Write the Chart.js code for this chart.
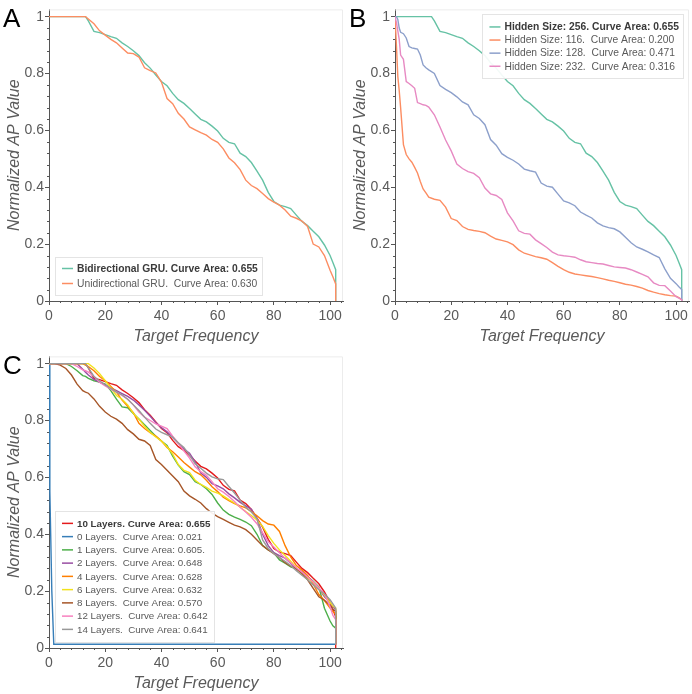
<!DOCTYPE html>
<html>
<head>
<meta charset="utf-8">
<script src="https://cdn.jsdelivr.net/npm/chart.js@4.4.0/dist/chart.umd.min.js"></script>
<style>
  body { margin: 0; background: #fff; width: 692px; height: 694px; position: relative; overflow: hidden; }
  .panel { position: absolute; width: 346px; height: 347px; }
</style>
</head>
<body>
<div class="panel" style="left:0;top:0"><canvas id="chartA" width="346" height="347"></canvas></div>
<div class="panel" style="left:346px;top:0"><canvas id="chartB" width="346" height="347"></canvas></div>
<div class="panel" style="left:0;top:347px"><canvas id="chartC" width="346" height="347"></canvas></div>
<script>
// x grid shared by panels A and C (102 twice = final vertical drop)
const freq = [0, 2, 4, 6, 8, 10, 12, 13, 14, 16, 18, 20, 22, 24, 26, 28, 30, 32, 34, 36, 38, 40,
  42, 44, 46, 48, 50, 52, 54, 56, 58, 60, 62, 64, 66, 68, 70, 72, 74, 76, 78, 80, 82, 84, 86,
  88, 90, 92, 94, 96, 98, 100, 101, 102, 102];
// finer grid near 0 for panel B
const freqFine = [0, 0.5, 1, 1.5, 2, 3, 4, 5, 6, 7, 8, 9, 10, 11, 12, 14, 16, 18, 20, 22, 24, 26,
  28, 30, 32, 34, 36, 38, 40, 42, 44, 46, 48, 50, 52, 54, 56, 58, 60, 62, 64, 66, 68, 70, 72, 74,
  76, 78, 80, 82, 84, 86, 88, 90, 92, 94, 96, 98, 100, 101, 102, 102];
const freqZero = [0, 0.3, 1, 1.7, 102];

const xTicks = [0, 20, 40, 60, 80, 100];
const yTicks = [0, 0.2, 0.4, 0.6, 0.8, 1];

// panel A (also B 256 and C 10 layers)
const biGru = [1, 1, 1, 1, 1, 1, 1, 1,
  0.985, 0.948, 0.944, 0.937, 0.93, 0.924, 0.908, 0.895, 0.88,
  0.863, 0.838, 0.819, 0.795, 0.772, 0.757, 0.73, 0.708, 0.695,
  0.677, 0.658, 0.639, 0.63, 0.615, 0.598, 0.572, 0.558, 0.553,
  0.52, 0.508, 0.487, 0.457, 0.425, 0.382, 0.35, 0.337, 0.332,
  0.325, 0.302, 0.28, 0.265, 0.245, 0.226, 0.197, 0.16,
  0.135, 0.11, 0];
const uniGru = [1, 1, 1, 1, 1, 1, 1, 1,
  0.992, 0.975, 0.95, 0.935, 0.92, 0.908, 0.89, 0.872, 0.87,
  0.858, 0.82, 0.81, 0.802, 0.77, 0.712, 0.694, 0.66, 0.64,
  0.612, 0.602, 0.592, 0.583, 0.568, 0.558, 0.535, 0.503, 0.486,
  0.462, 0.425, 0.406, 0.395, 0.378, 0.36, 0.348, 0.337, 0.32,
  0.298, 0.291, 0.281, 0.262, 0.2, 0.19, 0.16, 0.108,
  0.085, 0.06, 0];

// panel B
const hidden116 = [1, 0.9, 0.79, 0.74, 0.68,
  0.55, 0.515, 0.5, 0.488, 0.47, 0.45, 0.42, 0.394, 0.38, 0.365,
  0.358, 0.354, 0.33, 0.29, 0.283, 0.262, 0.252, 0.248, 0.245,
  0.24, 0.228, 0.218, 0.213, 0.208, 0.198, 0.18, 0.168, 0.162,
  0.156, 0.152, 0.147, 0.135, 0.122, 0.11, 0.101, 0.095, 0.092,
  0.089, 0.086, 0.082, 0.078, 0.073, 0.069, 0.064, 0.059, 0.056,
  0.051, 0.045, 0.037, 0.031, 0.026, 0.022, 0.019, 0.017,
  0.012, 0.005, 0];
const hidden128 = [1, 1, 0.99, 0.96, 0.945,
  0.94, 0.925, 0.895, 0.89, 0.888, 0.886, 0.865, 0.83, 0.82, 0.813,
  0.8, 0.758, 0.744, 0.733, 0.718, 0.7, 0.69, 0.655, 0.642,
  0.62, 0.568, 0.548, 0.518, 0.505, 0.495, 0.482, 0.464, 0.458,
  0.453, 0.415, 0.404, 0.4, 0.376, 0.352, 0.345, 0.335, 0.313,
  0.302, 0.292, 0.275, 0.264, 0.258, 0.254, 0.243, 0.224, 0.205,
  0.19, 0.182, 0.173, 0.162, 0.153, 0.113, 0.08, 0.061,
  0.05, 0.04, 0];
const hidden232 = [1, 0.98, 0.95, 0.92, 0.865,
  0.85, 0.772, 0.765, 0.757, 0.748, 0.698, 0.694, 0.69, 0.688, 0.682,
  0.655, 0.612, 0.566, 0.528, 0.482, 0.466, 0.455, 0.449, 0.434,
  0.397, 0.377, 0.371, 0.357, 0.31, 0.282, 0.247, 0.238, 0.235,
  0.215, 0.202, 0.188, 0.172, 0.162, 0.159, 0.157, 0.154, 0.145,
  0.138, 0.135, 0.132, 0.13, 0.125, 0.12, 0.118, 0.116, 0.11,
  0.102, 0.094, 0.085, 0.064, 0.055, 0.054, 0.035, 0.015,
  0.01, 0.005, 0];

// panel C
const layers0 = [1, 0.55, 0.2, 0.013, 0.013];
const layers1 = [1, 1, 1, 1, 0.99, 0.975, 0.958, 0.955,
  0.948, 0.94, 0.935, 0.928, 0.905, 0.875, 0.848, 0.845, 0.825,
  0.805, 0.785, 0.765, 0.745, 0.728, 0.712, 0.675, 0.643, 0.62,
  0.61, 0.585, 0.575, 0.56, 0.54, 0.51, 0.485, 0.47, 0.46,
  0.452, 0.443, 0.43, 0.4, 0.36, 0.345, 0.335, 0.31, 0.298,
  0.285, 0.278, 0.268, 0.25, 0.235, 0.215, 0.14, 0.095,
  0.078, 0.07, 0.013];
const layers2 = [1, 1, 1, 1, 1, 1, 0.98, 0.97,
  0.96, 0.945, 0.935, 0.925, 0.915, 0.905, 0.895, 0.885, 0.872,
  0.855, 0.836, 0.815, 0.793, 0.775, 0.76, 0.74, 0.72, 0.7,
  0.685, 0.655, 0.615, 0.6, 0.578, 0.57, 0.56, 0.542, 0.528,
  0.512, 0.5, 0.488, 0.455, 0.4, 0.36, 0.335, 0.325, 0.316,
  0.298, 0.278, 0.268, 0.252, 0.232, 0.21, 0.18, 0.16,
  0.145, 0.135, 0.013];
const layers4 = [1, 1, 1, 1, 1, 1, 1, 0.995,
  0.99, 0.975, 0.955, 0.94, 0.92, 0.9, 0.872, 0.85, 0.828,
  0.79, 0.772, 0.757, 0.745, 0.728, 0.705, 0.69, 0.672, 0.652,
  0.636, 0.62, 0.609, 0.59, 0.567, 0.55, 0.53, 0.518, 0.508,
  0.5, 0.493, 0.48, 0.465, 0.448, 0.436, 0.432, 0.41, 0.36,
  0.32, 0.29, 0.274, 0.255, 0.225, 0.188, 0.167, 0.14,
  0.128, 0.12, 0.013];
const layers6 = [1, 1, 1, 1, 1, 1, 1, 1,
  1, 0.985, 0.965, 0.94, 0.915, 0.888, 0.875, 0.855, 0.825,
  0.805, 0.78, 0.758, 0.742, 0.728, 0.708, 0.682, 0.645, 0.625,
  0.617, 0.59, 0.575, 0.565, 0.552, 0.545, 0.535, 0.522, 0.51,
  0.495, 0.48, 0.466, 0.45, 0.428, 0.395, 0.368, 0.345, 0.325,
  0.305, 0.282, 0.258, 0.245, 0.232, 0.21, 0.185, 0.16,
  0.148, 0.14, 0.013];
const layers8 = [1, 1, 0.995, 0.983, 0.96, 0.928, 0.905, 0.9,
  0.896, 0.876, 0.85, 0.83, 0.815, 0.805, 0.79, 0.768, 0.753,
  0.734, 0.728, 0.712, 0.663, 0.645, 0.625, 0.605, 0.585, 0.552,
  0.535, 0.523, 0.51, 0.49, 0.474, 0.462, 0.452, 0.442, 0.432,
  0.426, 0.416, 0.4, 0.38, 0.36, 0.345, 0.332, 0.318, 0.3,
  0.288, 0.279, 0.262, 0.24, 0.21, 0.18, 0.168, 0.15,
  0.136, 0.13, 0.013];
const layers12 = [1, 1, 1, 1, 1, 0.99, 0.978, 0.975,
  0.97, 0.955, 0.935, 0.922, 0.91, 0.9, 0.888, 0.875, 0.855,
  0.83, 0.812, 0.8, 0.788, 0.78, 0.772, 0.745, 0.72, 0.693,
  0.668, 0.637, 0.62, 0.607, 0.585, 0.56, 0.548, 0.533, 0.515,
  0.495, 0.478, 0.46, 0.437, 0.405, 0.374, 0.355, 0.335, 0.316,
  0.3, 0.282, 0.267, 0.25, 0.232, 0.212, 0.19, 0.145,
  0.115, 0.1, 0.013];
const layers14 = [1, 1, 1, 1, 1, 1, 1, 1,
  0.985, 0.955, 0.94, 0.925, 0.913, 0.9, 0.89, 0.875, 0.855,
  0.835, 0.812, 0.79, 0.77, 0.758, 0.75, 0.742, 0.722, 0.705,
  0.678, 0.648, 0.632, 0.615, 0.602, 0.595, 0.592, 0.568, 0.545,
  0.52, 0.495, 0.478, 0.455, 0.38, 0.35, 0.332, 0.318, 0.305,
  0.29, 0.272, 0.256, 0.24, 0.222, 0.205, 0.19, 0.17,
  0.155, 0.14, 0.013];

const FAMILY = "'Liberation Sans', Arial, Helvetica, sans-serif";
const AXIS_COLOR = '#555';
const LABEL_COLOR = '#5a5a5a';

function series(label, xs, ys, color) {
  return {
    label: label,
    data: xs.map((x, i) => ({ x: x, y: ys[i] })),
    borderColor: color,
    borderWidth: 1.4,
    pointRadius: 0,
    tension: 0,
    fill: false
  };
}

// legend drawn as a framed box inside the plot, first entry bold
const boxLegend = {
  id: 'boxLegend',
  afterDatasetsDraw(chart, args, opts) {
    const ctx = chart.ctx;
    const area = chart.chartArea;
    const sets = chart.data.datasets;
    const fontFor = i => (i === 0 ? 'bold ' : '') + opts.fontSize + 'px ' + FAMILY;
    ctx.save();
    let w = 0;
    sets.forEach((ds, i) => {
      ctx.font = fontFor(i);
      w = Math.max(w, ctx.measureText(ds.label).width);
    });
    const boxW = 22 + w + 4;
    const boxH = opts.padY * 2 + sets.length * opts.rowHeight;
    const x0 = opts.corner === 'top-right' ? area.right - opts.inset - boxW : area.left + opts.inset;
    const y0 = opts.corner === 'top-right' ? area.top + opts.inset - 1 : area.bottom - opts.inset - boxH;
    ctx.fillStyle = 'rgba(255,255,255,0.92)';
    ctx.fillRect(x0, y0, boxW, boxH);
    ctx.strokeStyle = '#e4e4e4';
    ctx.lineWidth = 1;
    ctx.strokeRect(Math.round(x0) + 0.5, Math.round(y0) + 0.5, Math.round(boxW), Math.round(boxH));
    sets.forEach((ds, i) => {
      const cy = y0 + opts.padY + opts.rowHeight * (i + 0.5);
      ctx.strokeStyle = ds.borderColor;
      ctx.lineWidth = 1.5;
      ctx.beginPath();
      ctx.moveTo(x0 + 7, cy);
      ctx.lineTo(x0 + 18, cy);
      ctx.stroke();
      ctx.font = fontFor(i);
      ctx.fillStyle = i === 0 ? '#3a3a3a' : '#5a5a5a';
      ctx.textBaseline = 'middle';
      ctx.textAlign = 'left';
      ctx.fillText(ds.label, x0 + 22, cy + 0.5);
    });
    ctx.restore();
  }
};

// light frame on top/right, minor ticks, panel letter
const decor = {
  id: 'decor',
  beforeDatasetsDraw(chart) {
    const ctx = chart.ctx, a = chart.chartArea;
    ctx.save();
    ctx.strokeStyle = '#ececec';
    ctx.lineWidth = 1;
    ctx.beginPath();
    ctx.moveTo(a.left, a.top + 0.5);
    ctx.lineTo(a.right - 0.5, a.top + 0.5);
    ctx.lineTo(a.right - 0.5, a.bottom);
    ctx.stroke();
    ctx.restore();
  },
  afterDraw(chart, args, opts) {
    const ctx = chart.ctx, a = chart.chartArea;
    const xs = chart.scales.x, ys = chart.scales.y;
    ctx.save();
    ctx.strokeStyle = AXIS_COLOR;
    ctx.lineWidth = 1;
    ctx.beginPath();
    for (let k = 1; k <= 26; k++) {
      if (k % 5 === 0) continue;
      const px = Math.round(xs.getPixelForValue(k * 4)) + 0.5;
      if (px > a.right) break;
      ctx.moveTo(px, a.bottom);
      ctx.lineTo(px, a.bottom + 2);
    }
    for (let k = 1; k < 25; k++) {
      if (k % 5 === 0) continue;
      const py = Math.round(ys.getPixelForValue(k * 0.04)) + 0.5;
      ctx.moveTo(a.left, py);
      ctx.lineTo(a.left - 2, py);
    }
    ctx.stroke();
    ctx.fillStyle = '#000';
    ctx.font = '26px ' + FAMILY;
    ctx.textBaseline = 'alphabetic';
    ctx.textAlign = 'left';
    ctx.fillText(opts.letter, 3, 27);
    ctx.restore();
  }
};

function axes() {
  return {
    x: {
      type: 'linear', min: 0, max: 104.6,
      afterBuildTicks: s => { s.ticks = xTicks.map(v => ({ value: v })); },
      afterFit: s => { s.height = 46; },
      grid: { drawOnChartArea: false, tickLength: 4, tickColor: AXIS_COLOR },
      border: { color: AXIS_COLOR, width: 1 },
      ticks: { color: LABEL_COLOR, font: { size: 14, family: FAMILY }, padding: 3, maxRotation: 0, callback: v => String(v) },
      title: { display: true, text: 'Target Frequency', color: LABEL_COLOR,
        font: { size: 16, style: 'italic', family: FAMILY }, padding: { top: 0, bottom: 1 } }
    },
    y: {
      type: 'linear', min: 0, max: 1.0255,
      afterBuildTicks: s => { s.ticks = yTicks.map(v => ({ value: v })); },
      afterFit: s => { s.width = 49; },
      grid: { drawOnChartArea: false, tickLength: 4, tickColor: AXIS_COLOR },
      border: { color: AXIS_COLOR, width: 1 },
      ticks: { color: LABEL_COLOR, font: { size: 14, family: FAMILY }, padding: 1, callback: v => String(v) },
      title: { display: true, text: 'Normalized AP Value', color: LABEL_COLOR,
        font: { size: 16, style: 'italic', family: FAMILY }, padding: { top: 5, bottom: 0 } }
    }
  };
}

function makeChart(id, letter, datasets, legendOpts) {
  const n = datasets.length;
  datasets.forEach((ds, i) => { ds.order = n - i; }); // later series drawn on top
  return new Chart(document.getElementById(id), {
    type: 'line',
    data: { datasets: datasets },
    options: {
      responsive: false,
      animation: false,
      layout: { padding: { top: 3, right: 3, left: 0, bottom: 0 } },
      scales: axes(),
      plugins: {
        legend: { display: false },
        tooltip: { enabled: false },
        boxLegend: legendOpts,
        decor: { letter: letter }
      }
    },
    plugins: [decor, boxLegend]
  });
}

makeChart('chartA', 'A', [
  series('Bidirectional GRU. Curve Area: 0.655', freq, biGru, '#66c2a5'),
  series('Unidirectional GRU.  Curve Area: 0.630', freq, uniGru, '#fc8d62')
], { corner: 'bottom-left', inset: 6, rowHeight: 15, padY: 4, fontSize: 10.3 });

makeChart('chartB', 'B', [
  series('Hidden Size: 256. Curve Area: 0.655', freq, biGru, '#66c2a5'),
  series('Hidden Size: 116.  Curve Area: 0.200', freqFine, hidden116, '#fc8d62'),
  series('Hidden Size: 128.  Curve Area: 0.471', freqFine, hidden128, '#8da0cb'),
  series('Hidden Size: 232.  Curve Area: 0.316', freqFine, hidden232, '#e78ac3')
], { corner: 'top-right', inset: 6, rowHeight: 13.1, padY: 6, fontSize: 10.3 });

makeChart('chartC', 'C', [
  series('10 Layers. Curve Area: 0.655', freq, biGru, '#e41a1c'),
  series('0 Layers.  Curve Area: 0.021', freqZero, layers0, '#377eb8'),
  series('1 Layers.  Curve Area: 0.605.', freq, layers1, '#4daf4a'),
  series('2 Layers.  Curve Area: 0.648', freq, layers2, '#984ea3'),
  series('4 Layers.  Curve Area: 0.628', freq, layers4, '#ff7f00'),
  series('6 Layers.  Curve Area: 0.632', freq, layers6, '#f2e21c'),
  series('8 Layers.  Curve Area: 0.570', freq, layers8, '#a65628'),
  series('12 Layers.  Curve Area: 0.642', freq, layers12, '#f781bf'),
  series('14 Layers.  Curve Area: 0.641', freq, layers14, '#999999')
], { corner: 'bottom-left', inset: 6, rowHeight: 13.25, padY: 6, fontSize: 9.8 });
</script>
</body>
</html>
